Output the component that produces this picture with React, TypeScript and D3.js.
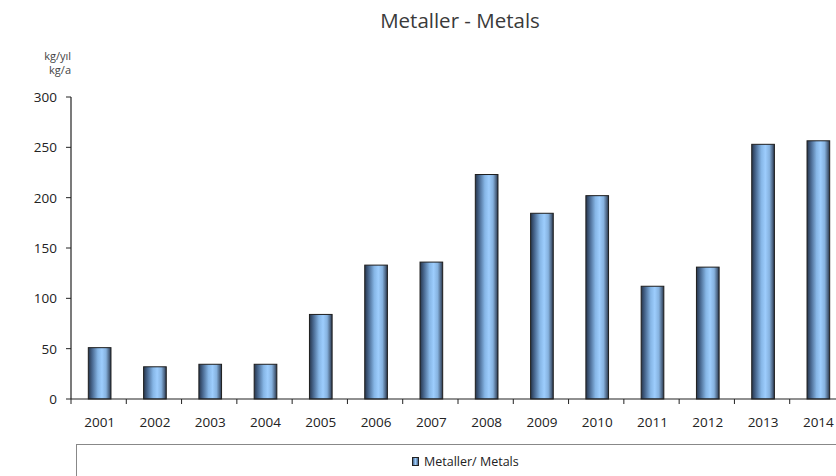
import React from "react";
import * as d3 from "d3";

const years = ["2001", "2002", "2003", "2004", "2005", "2006", "2007", "2008", "2009", "2010", "2011", "2012", "2013", "2014"];
const metals = [51, 32, 34.5, 34.5, 84, 133, 136, 223, 184.5, 202, 112, 131, 253, 256.5];
const yTicks = [0, 50, 100, 150, 200, 250, 300];

const title = "Metaller - Metals";
const unitLines = ["kg/yıl", "kg/a"];
const legendLabel = "Metaller/ Metals";

const W = 836;
const H = 476;
const plotLeft = 71;
const plotRight = 845;
const plotTop = 97;
const plotBottom = 399;
const font = "'Open Sans', 'Noto Sans', sans-serif";

export default function App() {
  const x = d3.scaleBand<string>().domain(years).range([plotLeft, plotRight]).padding(0);
  const y = d3.scaleLinear().domain([0, 300]).range([plotBottom, plotTop]);
  const barW = x.bandwidth() * 0.41;
  const boundaries = years.map((yr) => x(yr) as number);

  return (
    <svg
      width={W}
      height={H}
      style={{ position: "absolute", left: 0, top: 0, background: "#fff", overflow: "hidden" }}
    >
      <defs>
        <linearGradient id="barFill" x1="0" x2="1" y1="0" y2="0">
          <stop offset="0%" stopColor="#26344a" />
          <stop offset="18%" stopColor="#4a6a92" />
          <stop offset="42%" stopColor="#86b6e6" />
          <stop offset="60%" stopColor="#9dcdfd" />
          <stop offset="78%" stopColor="#86b2df" />
          <stop offset="92%" stopColor="#4d6583" />
          <stop offset="100%" stopColor="#26344a" />
        </linearGradient>
        <linearGradient id="legendFill" x1="0" x2="1" y1="0" y2="0">
          <stop offset="0%" stopColor="#3a5272" />
          <stop offset="50%" stopColor="#9dcdfd" />
          <stop offset="100%" stopColor="#3a5272" />
        </linearGradient>
      </defs>

      <text x={460} y={28} textAnchor="middle" fontFamily={font} fontSize={20.5} fill="#3a3a3a">
        {title}
      </text>

      {unitLines.map((t, i) => (
        <text key={t} x={71} y={60 + i * 13.5} textAnchor="end" fontFamily={font} fontSize={11} fill="#444">
          {t}
        </text>
      ))}

      {/* Y axis */}
      <line x1={plotLeft} x2={plotLeft} y1={plotTop} y2={plotBottom} stroke="#222" strokeWidth={1.2} />
      {yTicks.map((t) => (
        <g key={t}>
          <line x1={plotLeft - 5} x2={plotLeft} y1={y(t)} y2={y(t)} stroke="#222" strokeWidth={1} />
          <text x={57} y={y(t) + 5} textAnchor="end" fontFamily={font} fontSize={13.5} fill="#222">
            {t}
          </text>
        </g>
      ))}

      {/* Bars */}
      {years.map((yr, i) => {
        const cx = (x(yr) as number) + x.bandwidth() / 2 + 1;
        return (
          <rect
            key={yr}
            x={cx - barW / 2}
            y={y(metals[i])}
            width={barW}
            height={y(0) - y(metals[i])}
            fill="url(#barFill)"
            stroke="#1e1e1e"
            strokeWidth={1}
          />
        );
      })}

      {/* X axis */}
      <line x1={plotLeft} x2={plotRight} y1={plotBottom} y2={plotBottom} stroke="#222" strokeWidth={1.2} />
      {boundaries.map((bx, i) => (
        <line key={i} x1={bx} x2={bx} y1={plotBottom} y2={plotBottom + 5} stroke="#222" strokeWidth={1} />
      ))}
      {years.map((yr) => (
        <text
          key={yr}
          x={(x(yr) as number) + x.bandwidth() / 2 + 1}
          y={427}
          textAnchor="middle"
          fontFamily={font}
          fontSize={13.5}
          fill="#222"
        >
          {yr}
        </text>
      ))}

      {/* Legend */}
      <rect x={76.5} y={444.5} width={800} height={60} fill="#fff" stroke="#888" strokeWidth={1} />
      <rect x={412.5} y={457.5} width={6} height={8} fill="url(#legendFill)" stroke="#222" strokeWidth={1} />
      <text x={424} y={466} fontFamily={font} fontSize={12.5} fill="#222">
        {legendLabel}
      </text>
    </svg>
  );
}
